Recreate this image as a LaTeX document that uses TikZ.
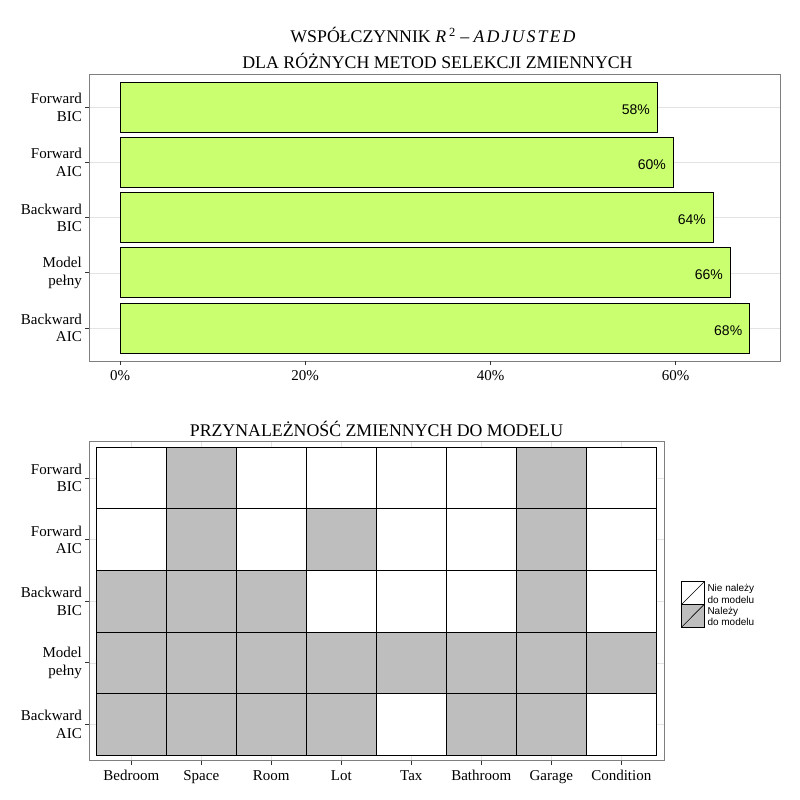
\documentclass[tikz,border=0pt]{standalone}
\usepackage{fontspec}
\setmainfont{Liberation Serif}
\setsansfont{Liberation Sans}

\definecolor{barfill}{HTML}{CAFF70}
\definecolor{tilefill}{HTML}{BEBEBE}
\definecolor{framegray}{HTML}{7F7F7F}
\definecolor{gridgray}{HTML}{E3E3E3}
\definecolor{tickgray}{HTML}{333333}

\tikzset{
  panel/.style={draw=framegray, line width=1pt},
  gridln/.style={draw=gridgray, line width=0.8pt},
  tickln/.style={draw=tickgray, line width=0.9pt},
  bar/.style={draw=black, fill=barfill, line width=1pt},
  tile/.style={draw=black, line width=1pt},
  ylab/.style={anchor=east, align=right, inner sep=0pt, font=\fontsize{15}{17.5}\selectfont},
  xlab/.style={anchor=base, inner sep=0pt, font=\fontsize{15}{18}\selectfont},
  ttl/.style={anchor=base, inner sep=0pt, font=\fontsize{17.8}{20}\selectfont},
  barlab/.style={anchor=base east, inner sep=0pt, font=\sffamily\fontsize{14}{16}\selectfont},
  leglab/.style={anchor=base west, inner sep=0pt, font=\sffamily\fontsize{10}{12}\selectfont},
}

\begin{document}
\begin{tikzpicture}[x=1pt, y=-1pt]
        \useasboundingbox (0,0) rectangle (800,800);

        % titles
        \node[ttl] (ttlA) at (433, 42.7) {WSPÓŁCZYNNIK \textit{R}\,\textsuperscript{2} – {\itshape\addfontfeatures{LetterSpace=12}ADJUSTED}};
        \node[ttl] (ttlB) at (437.5, 68.3) {DLA RÓŻNYCH METOD SELEKCJI ZMIENNYCH};
        \node[ttl] (ttlC) at (376.5, 436) {PRZYNALEŻNOŚĆ ZMIENNYCH DO MODELU};

        % upper panel
        \foreach \i in {0,...,4}
            \draw[gridln] (89.5, 107.3+55.2*\i) -- (779.5, 107.3+55.2*\i);
        \draw[panel] (89,74) rectangle (780,361);

        \foreach \i/\r/\v in {0/657.3/58, 1/673.3/60, 2/713.3/64, 3/730.3/66, 4/749.7/68} {
            \draw[bar] (120, 82.3+55.2*\i) rectangle (\r, 132.3+55.2*\i);
            \node[barlab] (val\i) at (\r-7.3, 114.3+55.2*\i) {\v\%};
        }

        \foreach \i/\t in {0/{Forward\\BIC}, 1/{Forward\\AIC}, 2/{Backward\\BIC}, 3/{Model\\pełny}, 4/{Backward\\AIC}} {
            \draw[tickln] (85, 107.3+55.2*\i) -- (89, 107.3+55.2*\i);
            \node[ylab] (rowA\i) at (82, 107.3+55.2*\i) {\t};
        }

        \foreach \x/\p in {120/0, 305.2/20, 490.5/40, 675.7/60} {
            \draw[tickln] (\x, 361) -- (\x, 365);
            \node[xlab] (pct\p) at (\x, 380.7) {\p\%};
        }

        % lower panel
        \foreach \j in {0,...,7}
            \draw[gridln] (131.3+70*\j, 442.2) -- (131.3+70*\j, 760.2);
        \foreach \i in {0,...,4}
            \draw[gridln] (89.5, 478.1+61.6*\i) -- (663.8, 478.1+61.6*\i);
        \draw[panel] (89,441.7) rectangle (664.3,760.7);

        \foreach \row [count=\i from 0] in {{0,1,0,0,0,0,1,0}, {0,1,0,1,0,0,1,0}, {1,1,1,0,0,0,1,0}, {1,1,1,1,1,1,1,1}, {1,1,1,1,0,1,1,0}} {
            \foreach \c [count=\j from 0] in \row {
                \ifnum\c=1 \def\tc{tilefill}\else\def\tc{white}\fi
                \draw[tile, fill=\tc] (96.3+70*\j, 447.3+61.6*\i) rectangle (166.3+70*\j, 508.9+61.6*\i);
            }
        }

        \foreach \i/\t in {0/{Forward\\BIC}, 1/{Forward\\AIC}, 2/{Backward\\BIC}, 3/{Model\\pełny}, 4/{Backward\\AIC}} {
            \draw[tickln] (85, 478.1+61.6*\i) -- (89, 478.1+61.6*\i);
            \node[ylab] (rowB\i) at (82, 478.1+61.6*\i) {\t};
        }

        \foreach \t [count=\j from 0] in {Bedroom, Space, Room, Lot, Tax, Bathroom, Garage, Condition} {
            \draw[tickln] (131.3+70*\j, 760.7) -- (131.3+70*\j, 764.7);
            \node[xlab] (col\j) at (131.3+70*\j, 780.7) {\t};
        }

        % legend
        \draw[tile, line width=0.8pt, fill=white] (681.7,581.7) rectangle (704.3,604.3);
        \draw[line width=0.6pt] (681.7,604.3) -- (704.3,581.7);
        \draw[tile, line width=0.8pt, fill=tilefill] (681.7,604.3) rectangle (704.3,627);
        \draw[line width=0.6pt] (681.7,627) -- (704.3,604.3);
        \node[leglab] (legA) at (707.3, 591) {Nie należy};
        \node[leglab] (legB) at (707.3, 603.3) {do modelu};
        \node[leglab] (legC) at (707.3, 614.7) {Należy};
        \node[leglab] (legD) at (707.3, 625.3) {do modelu};
    \end{tikzpicture}
\end{document}
